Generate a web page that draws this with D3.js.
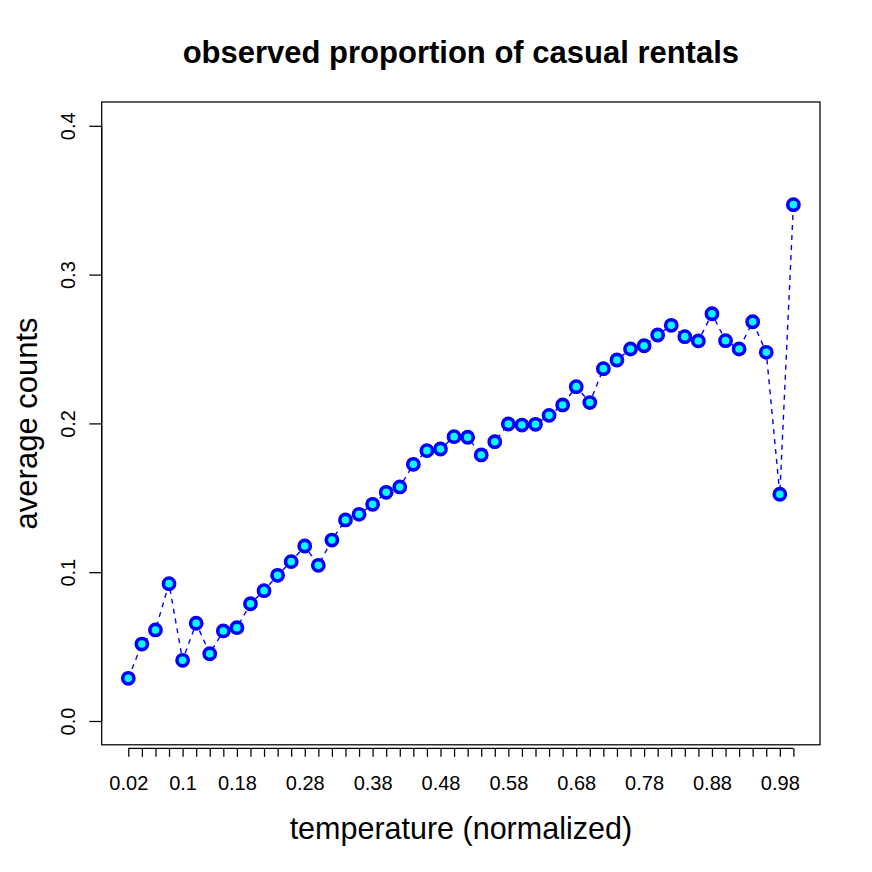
<!DOCTYPE html>
<html>
<head>
<meta charset="utf-8">
<script src="https://cdn.jsdelivr.net/npm/d3@7"></script>
<style>
  html, body { margin: 0; padding: 0; background: #fff; }
  svg { display: block; }
  text { font-family: "Liberation Sans", Arial, Helvetica, sans-serif; fill: #000; }
</style>
</head>
<body>
<svg id="chart" width="872" height="872"></svg>
<script>
// ---- data ----
const tempLabels = ["0.02","0.04","0.06","0.08","0.1","0.12","0.14","0.16","0.18","0.2",
  "0.22","0.24","0.26","0.28","0.3","0.32","0.34","0.36","0.38","0.4",
  "0.42","0.44","0.46","0.48","0.5","0.52","0.54","0.56","0.58","0.6",
  "0.62","0.64","0.66","0.68","0.7","0.72","0.74","0.76","0.78","0.8",
  "0.82","0.84","0.86","0.88","0.9","0.92","0.94","0.96","0.98","1"];
const shownLabels = ["0.02","0.1","0.18","0.28","0.38","0.48","0.58","0.68","0.78","0.88","0.98"];
const casualProp = [0.0287,0.0517,0.0612,0.0923,0.0408,0.0657,0.0452,0.0605,0.0627,0.0788,
  0.0876,0.0979,0.1071,0.1176,0.1046,0.1216,0.1351,0.1389,0.1456,0.1537,
  0.1573,0.1725,0.1817,0.1828,0.1911,0.1907,0.1788,0.1877,0.1996,0.1989,
  0.1994,0.2054,0.2124,0.2247,0.2140,0.2368,0.2426,0.2500,0.2522,0.2594,
  0.2659,0.2583,0.2554,0.2737,0.2556,0.2500,0.2683,0.2478,0.1524,0.3470];
const yTicks = [0, 0.1, 0.2, 0.3, 0.4];

const title = "observed proportion of casual rentals";
const xTitle = "temperature (normalized)";
const yTitle = "average counts";

(function () {
// ---- layout ----
const svg = d3.select("#chart");
const pLeft = 101.7, pRight = 820, pTop = 102, pBottom = 744.8;
const n = casualProp.length;
const pad = 0.04 * (n - 1);

const x = d3.scaleLinear().domain([1 - pad, n + pad]).range([pLeft, pRight]);
const y = d3.scaleLinear().domain([-0.016, 0.416]).range([pBottom, pTop]);

const pts = casualProp.map((v, i) => ({ i: i + 1, v }));

// line (dashed)
svg.append("path")
  .datum(pts)
  .attr("fill", "none")
  .attr("stroke", "#0000FF")
  .attr("stroke-width", 1.4)
  .attr("stroke-dasharray", "5,5")
  .attr("d", d3.line().x(d => x(d.i)).y(d => y(d.v)));

// points
svg.append("g").selectAll("circle")
  .data(pts).enter().append("circle")
  .attr("cx", d => x(d.i))
  .attr("cy", d => y(d.v))
  .attr("r", 5.6)
  .attr("fill", "#00FFFF")
  .attr("stroke", "#0000FF")
  .attr("stroke-width", 3.6);

// box
svg.append("rect")
  .attr("x", pLeft).attr("y", pTop)
  .attr("width", pRight - pLeft).attr("height", pBottom - pTop)
  .attr("fill", "none").attr("stroke", "#000").attr("stroke-width", 1.25);

// x axis
const xAxis = d3.axisBottom(x)
  .tickValues(d3.range(1, n + 1))
  .tickSize(8.5)
  .tickSizeOuter(0)
  .tickPadding(25)
  .tickFormat(i => shownLabels.includes(tempLabels[i - 1]) ? tempLabels[i - 1] : "");
const gx = svg.append("g").attr("transform", `translate(0,${pBottom + 3.5})`).call(xAxis);
gx.select(".domain").attr("d", `M${x(1)},0H${x(n)}`).attr("stroke-width", 1.25);
gx.selectAll(".tick line").attr("stroke-width", 1.25);
gx.selectAll(".tick text").style("font-size", "20px").attr("font-family", null)
  .attr("dy", "0").attr("y", 42);

// y axis
const yAxis = d3.axisLeft(y)
  .tickValues(yTicks)
  .tickSize(12.4)
  .tickSizeOuter(0)
  .tickFormat(d3.format(".1f"));
const gy = svg.append("g").attr("transform", `translate(${pLeft},0)`).call(yAxis);
gy.select(".domain").attr("d", `M0,${y(0)}V${y(0.4)}`).attr("stroke-width", 1.25);
gy.selectAll(".tick line").attr("stroke-width", 1.25);
gy.selectAll(".tick text")
  .style("font-size", "20px").attr("font-family", null)
  .attr("x", null).attr("dy", null)
  .attr("text-anchor", "middle")
  .attr("transform", "translate(-27,0) rotate(-90)");

// titles
const cx = (pLeft + pRight) / 2;
svg.append("text")
  .attr("x", cx).attr("y", 63)
  .attr("text-anchor", "middle")
  .style("font-size", "31px").style("font-weight", "bold")
  .text(title);

svg.append("text")
  .attr("x", cx).attr("y", 839)
  .attr("text-anchor", "middle")
  .style("font-size", "30.5px")
  .text(xTitle);

svg.append("text")
  .attr("transform", `translate(37,${(pTop + pBottom) / 2}) rotate(-90)`)
  .attr("text-anchor", "middle")
  .style("font-size", "31px")
  .text(yTitle);
})();
</script>
</body>
</html>
